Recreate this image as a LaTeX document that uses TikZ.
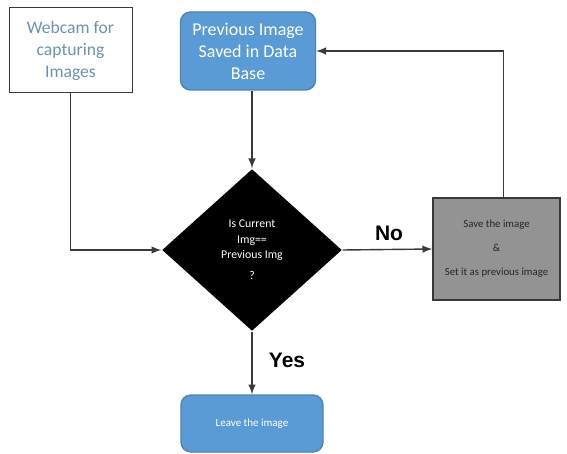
\documentclass[tikz,border=0pt]{standalone}
\usepackage{fontspec}
\setmainfont{Carlito}
\newfontfamily\labelfont{Liberation Sans}
\usetikzlibrary{shapes.geometric}
\definecolor{boxblue}{HTML}{5B9BD5}
\definecolor{camtext}{HTML}{6A93B0}
\definecolor{linegray}{HTML}{3A3A3A}

\begin{document}
\begin{tikzpicture}[x=0.5pt, y=-0.5pt, >=latex, line width=0.7pt,
  bluebox/.style={draw=boxblue!85!black, fill=boxblue, rounded corners=5pt, text=white, align=center, inner sep=1pt},
  flowline/.style={draw=linegray, ->},
  answer/.style={font=\labelfont\bfseries\fontsize{10.5}{12}\selectfont}]
  \useasboundingbox (0,0) rectangle (567,454);
  % Boxes
  \node[draw=linegray, line width=0.5pt, minimum width=61.5pt, minimum height=42.5pt,
    text=camtext, align=center, font=\fontsize{8.8}{11}\selectfont, inner sep=1pt] (cam) at (70.5,50.5)
    {Webcam for\\capturing\\Images};
  \node[bluebox, minimum width=67.5pt, minimum height=39pt, font=\fontsize{9}{11}\selectfont] (prev) at (248,51)
    {Previous Image\\Saved in Data\\Base};
  \node[diamond, fill=black, text=white, minimum width=90pt, minimum height=81pt, inner sep=0pt,
    align=center, font=\fontsize{5.9}{7.6}\selectfont] (dec) at (252,250)
    {Is Current\\Img==\\Previous Img\\[3pt]?};
  \node[draw=gray!45!black, fill=gray!85, minimum width=63.5pt, minimum height=51pt, align=center,
    text=black!85, font=\fontsize{5.4}{12}\selectfont, inner sep=1pt] (save) at (496.5,249)
    {Save the image\\\&\\Set it as previous image};
  \node[bluebox, minimum width=71pt, minimum height=28.5pt, font=\fontsize{5.5}{7}\selectfont] (leave) at (252,423.5)
    {Leave the image};
  % Connectors
  \draw[flowline] (cam.south) |- (dec.west);
  \draw[flowline] (dec.north |- prev.south) -- (dec.north);
  \draw[flowline] (dec.east) -- (save.west);
  \draw[flowline] ([xshift=3.5pt]save.north) |- (prev.east);
  \draw[flowline] (dec.south) -- (leave.north);
  % Answers
  \node[answer] (no) at (389,233) {No};
  \node[answer] (yes) at (287,360) {Yes};
\end{tikzpicture}
\end{document}
